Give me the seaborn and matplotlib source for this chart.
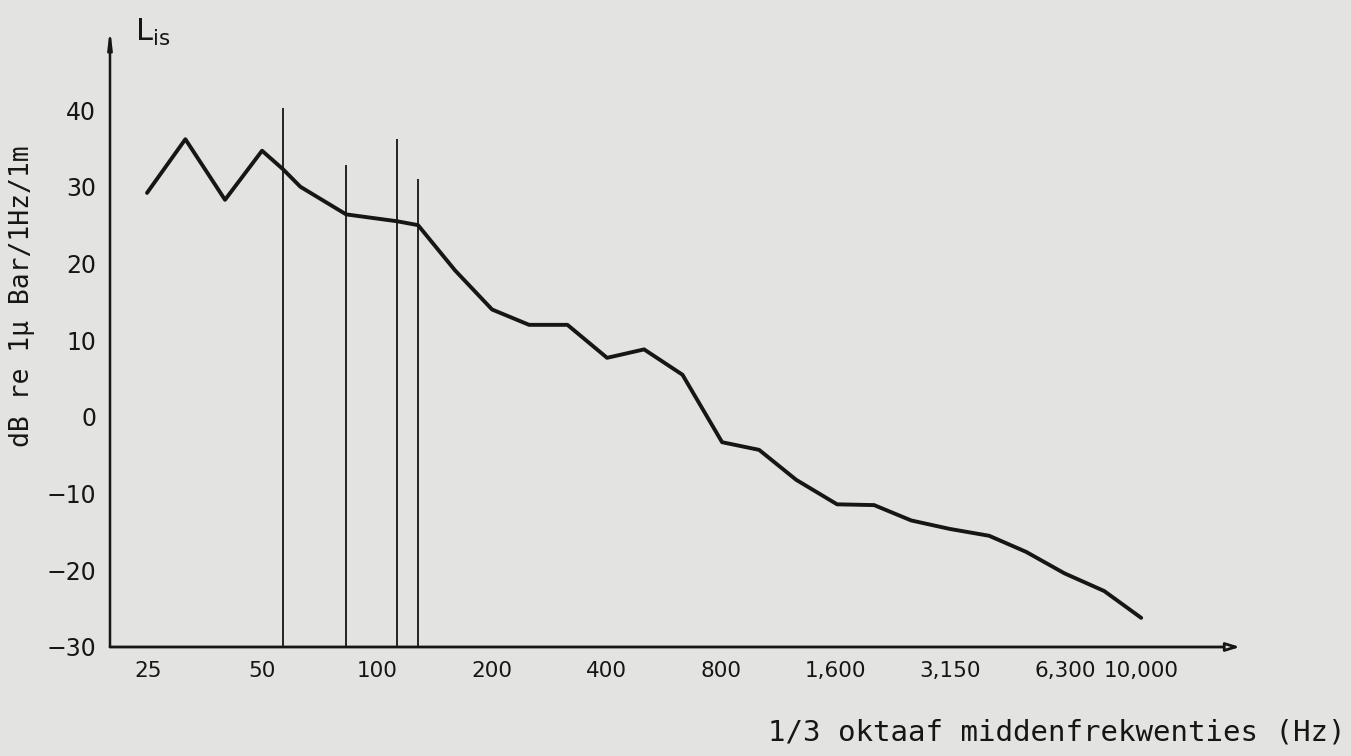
import matplotlib
matplotlib.use("Agg")
import matplotlib.pyplot as plt
from matplotlib.ticker import NullLocator
import pandas as pd
import seaborn as sns

# ---- data ----
freq_hz = [25, 31.5, 40, 50, 56.7, 63, 83, 113, 128, 160, 200, 250, 315, 400, 500,
           630, 800, 1000, 1250, 1600, 2000, 2500, 3150, 4000, 5000, 6300, 8000, 10000]
level_db = [29.2, 36.2, 28.3, 34.7, 32.3, 30.0, 26.4, 25.5, 25.0, 19.1, 14.0, 12.0, 12.0,
            7.7, 8.8, 5.5, -3.3, -4.3, -8.2, -11.4, -11.5, -13.5, -14.6, -15.5, -17.6,
            -20.4, -22.7, -26.2]

marker_freq = [56.7, 83, 113, 128]
marker_top = [40.3, 32.9, 36.2, 31.0]

band_index = list(range(-16, 11))          # 1/3-octave bands 25 Hz ... 10 kHz
band_labels = ["25", "", "", "50", "", "", "100", "", "", "200", "", "", "400", "", "",
               "800", "", "", "1,600", "", "", "3,150", "", "", "6,300", "", "10,000"]

y_ticks = [40, 30, 20, 10, 0, -10, -20, -30]
y_tick_labels = ["40", "30", "20", "10", "0", "\u221210", "\u221220", "\u221230"]

# ---- styling ----
sns.set_style("white")
paper = "#e3e3e1"
ink = "#161616"
plt.rcParams["font.family"] = ["DejaVu Sans"]

fig = plt.figure(figsize=(13.51, 7.56), dpi=100, facecolor=paper)
ax = fig.add_axes([110 / 1351, 1 - 647 / 756, (1240 - 110) / 1351, (647 - 28) / 756])
ax.set_facecolor(paper)

df = pd.DataFrame({"f": freq_hz, "L": level_db})
sns.lineplot(data=df, x="f", y="L", ax=ax, color=ink, lw=2.8, sort=False)

ax.vlines(marker_freq, -30, marker_top, color=ink, lw=1.3)

ax.set_xscale("log")
ax.set_xlim(20.0, 18140)
ax.set_ylim(-30, 50.7)

band_freqs = [1000 * 10 ** (n / 10) for n in band_index]
ax.set_xticks(band_freqs)
ax.set_xticklabels(band_labels)
ax.xaxis.set_minor_locator(NullLocator())
ax.set_yticks(y_ticks)
ax.set_yticklabels(y_tick_labels)

ax.tick_params(axis="x", direction="in", length=7, width=1.3, colors=ink,
               labelsize=15.5, pad=10)
ax.tick_params(axis="y", direction="in", length=9, width=1.6, colors=ink,
               labelsize=17, pad=10)

for s in ax.spines.values():
    s.set_visible(False)

# axes with arrows
ax.annotate("", xy=(1.0, 0.0), xycoords="axes fraction", xytext=(0.0, 0.0),
            arrowprops=dict(arrowstyle="-|>,head_length=0.8,head_width=0.25",
                            lw=2, color=ink, fc=paper, shrinkA=0, shrinkB=0))
ax.annotate("", xy=(0.0, 1.0), xycoords="axes fraction", xytext=(0.0, 0.0),
            arrowprops=dict(arrowstyle="->,head_length=1.0,head_width=0.12",
                            lw=1.8, color=ink, shrinkA=0, shrinkB=0))

ax.set_xlabel("")
ax.set_ylabel("")

fig.text(135 / 1351, 1 - 32 / 756, r"L$_{\mathrm{is}}$", fontsize=22, color=ink,
         ha="left", va="center")
fig.text(22 / 1351, 1 - 296 / 756, "dB re 1\u03bc Bar/1Hz/1m", rotation=90,
         fontsize=19, color=ink, ha="center", va="center", family="DejaVu Sans Mono")
fig.text(1345 / 1351, 1 - 733 / 756, "1/3 oktaaf middenfrekwenties (Hz)",
         fontsize=21, color=ink, ha="right", va="center", family="DejaVu Sans Mono")

fig.savefig("out.png", dpi=100, facecolor=paper)
